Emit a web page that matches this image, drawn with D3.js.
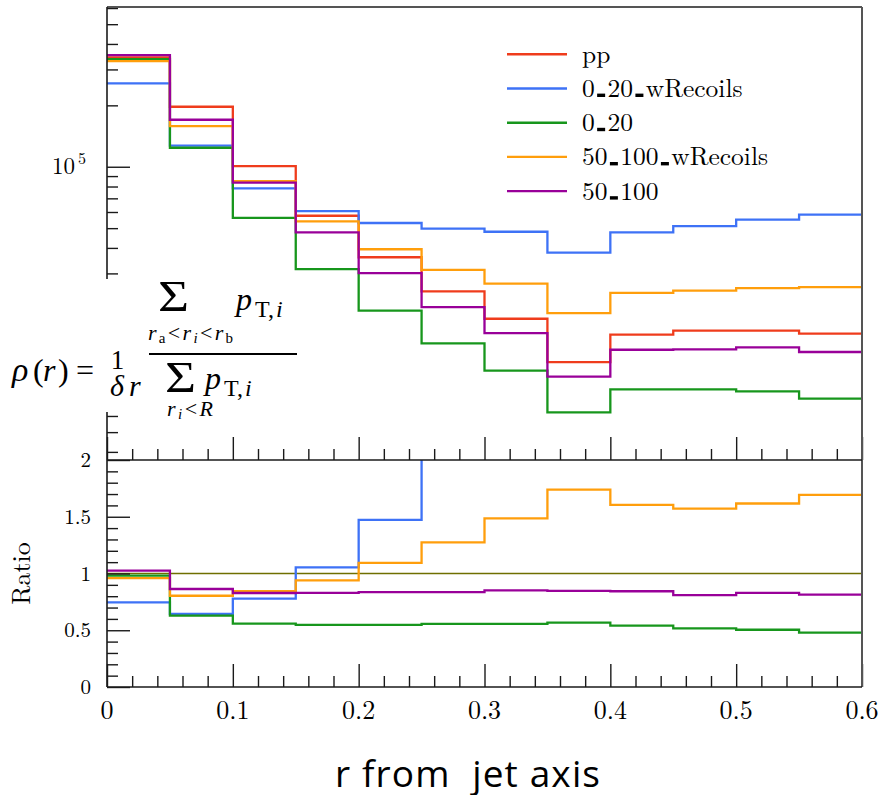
<!DOCTYPE html>
<html>
<head>
<meta charset="utf-8">
<script src="https://cdn.jsdelivr.net/npm/d3@7"></script>
<style>
  body { margin: 0; background: #fff; }
  svg { display: block; }
</style>
</head>
<body>
<svg id="chart" width="882" height="795"></svg>
<script>
// Jet shape rho(r): bin edges in r and per-bin values for each sample
const rEdges = [0, 0.05, 0.1, 0.15, 0.2, 0.25, 0.3, 0.35, 0.4, 0.45, 0.5, 0.55, 0.6];
const seriesNames = ["pp", "0_20_wRecoils", "0_20", "50_100_wRecoils", "50_100"];
const ppVals        = [343900, 196900, 100800, 57500, 36000, 24500, 17980, 11030, 15020, 15710, 15710, 15190];
const cent020Recoil = [256400, 126800, 78400, 60600, 53000, 49700, 48000, 37900, 47700, 51200, 55000, 58200];
const cent020       = [337300, 123900, 56200, 31500, 19700, 13620, 10000, 6250, 8110, 8110, 7925, 7290];
const cent50Recoil  = [329700, 158300, 85100, 54000, 39400, 31200, 26700, 19180, 24100, 24700, 25400, 25700];
const cent50        = [352800, 170000, 83500, 47700, 30100, 20500, 15300, 9350, 12670, 12730, 13020, 12350];
const xTickLabels = ["0", "0.1", "0.2", "0.3", "0.4", "0.5", "0.6"];
const xTickValues = [0, 0.1, 0.2, 0.3, 0.4, 0.5, 0.6];
const ratioTickValues = [0, 0.5, 1, 1.5, 2];
const ratioTickLabels = ["0", "0.5", "1", "1.5", "2"];

const seriesVals = [ppVals, cent020Recoil, cent020, cent50Recoil, cent50];
const seriesColors = ["#ef3c1c", "#3e72f6", "#17961c", "#ff9e0c", "#990099"];
const refColor = "#6f6f00";

const LM = '"Latin Modern Roman"';
const TIMES = '"Liberation Serif"';
const svg = d3.select("#chart");
const L = 107, R = 862, TOP = 7, MID = 460, BOT = 687;

const x = d3.scaleLinear().domain([0, 0.6]).range([L, R]);
const yMain = d3.scaleLog().domain([3650, 6.07e5]).range([MID, TOP]);
const yRatio = d3.scaleLinear().domain([0, 2]).range([BOT, MID]);

const defs = svg.append("defs");
defs.append("clipPath").attr("id", "clipMain")
  .append("rect").attr("x", L).attr("y", TOP).attr("width", R - L).attr("height", MID - TOP);
defs.append("clipPath").attr("id", "clipRatio")
  .append("rect").attr("x", L).attr("y", MID).attr("width", R - L).attr("height", BOT - MID);

const stepPts = vals => vals.map((v, i) => [rEdges[i], v]).concat([[rEdges[rEdges.length - 1], vals[vals.length - 1]]]);
const stepLine = ys => d3.line().x(d => x(d[0])).y(d => ys(d[1])).curve(d3.curveStepAfter);

// ---- upper panel: histograms ----
const gMain = svg.append("g").attr("clip-path", "url(#clipMain)");
seriesVals.forEach((vals, k) => {
  gMain.append("path")
    .attr("d", stepLine(yMain)(stepPts(vals)))
    .attr("fill", "none")
    .attr("stroke", seriesColors[k])
    .attr("stroke-width", 2.3);
});

// ---- lower panel: ratios to pp ----
const gRatio = svg.append("g").attr("clip-path", "url(#clipRatio)");
gRatio.append("path")
  .attr("d", stepLine(yRatio)(stepPts(ppVals.map((v, i) => v / ppVals[i]))))
  .attr("fill", "none").attr("stroke", refColor).attr("stroke-width", 1.6);
seriesVals.slice(1).forEach((vals, k) => {
  const ratio = vals.map((v, i) => v / ppVals[i]);
  gRatio.append("path")
    .attr("d", stepLine(yRatio)(stepPts(ratio)))
    .attr("fill", "none")
    .attr("stroke", seriesColors[k + 1])
    .attr("stroke-width", 2.3);
});

// ---- axes ----
const axCol = "#1a1a1a";
function styleAxis(g) {
  g.select(".domain").remove();
  g.selectAll(".tick line").attr("stroke", axCol).attr("stroke-width", 1.4);
  g.selectAll(".tick text").remove();
}
const xMinor = d3.range(0, 31).map(i => i * 0.02).filter((v, i) => i % 5 !== 0);

[MID, BOT].forEach(yy => {
  svg.append("g").attr("transform", `translate(0,${yy})`)
    .call(d3.axisTop(x).tickValues(xTickValues).tickSize(23).tickSizeOuter(0)).call(styleAxis);
  svg.append("g").attr("transform", `translate(0,${yy})`)
    .call(d3.axisTop(x).tickValues(xMinor).tickSize(11).tickSizeOuter(0)).call(styleAxis);
});

// log ticks on the upper panel
const logMajor = [1e4, 1e5];
const logMinor = [];
[1e3, 1e4, 1e5].forEach(dec => { for (let m = 2; m <= 9; m++) logMinor.push(m * dec); });
const logMinorIn = logMinor.filter(v => v >= 3650 && v <= 6.07e5);
svg.append("g").attr("transform", `translate(${L},0)`)
  .call(d3.axisRight(yMain).tickValues(logMajor).tickSize(23).tickSizeOuter(0)).call(styleAxis);
svg.append("g").attr("transform", `translate(${L},0)`)
  .call(d3.axisRight(yMain).tickValues(logMinorIn).tickSize(11).tickSizeOuter(0)).call(styleAxis);

// ratio ticks
const ratioMinor = d3.range(0, 21).map(i => i * 0.1).filter((v, i) => i % 5 !== 0);
svg.append("g").attr("transform", `translate(${L},0)`)
  .call(d3.axisRight(yRatio).tickValues(ratioTickValues).tickSize(23).tickSizeOuter(0)).call(styleAxis);
svg.append("g").attr("transform", `translate(${L},0)`)
  .call(d3.axisRight(yRatio).tickValues(ratioMinor).tickSize(11).tickSizeOuter(0)).call(styleAxis);

// frame
svg.append("line").attr("x1", L).attr("x2", R).attr("y1", TOP).attr("y2", TOP)
  .attr("stroke", "#555").attr("stroke-width", 2);
svg.append("line").attr("x1", R).attr("x2", R).attr("y1", TOP).attr("y2", BOT)
  .attr("stroke", "#555").attr("stroke-width", 2);
svg.append("line").attr("x1", L).attr("x2", L).attr("y1", TOP).attr("y2", BOT)
  .attr("stroke", axCol).attr("stroke-width", 1.6);
svg.append("line").attr("x1", L).attr("x2", R).attr("y1", MID).attr("y2", MID)
  .attr("stroke", axCol).attr("stroke-width", 1.6);
svg.append("line").attr("x1", L).attr("x2", R).attr("y1", BOT).attr("y2", BOT)
  .attr("stroke", axCol).attr("stroke-width", 1.6);

// tick labels
svg.append("g").selectAll("text").data(xTickValues).join("text")
  .attr("x", d => x(d)).attr("y", 718.5)
  .attr("text-anchor", "middle").attr("font-size", 26)
  .style("font-family", LM)
  .text((d, i) => xTickLabels[i]);
svg.append("g").selectAll("text").data(ratioTickValues).join("text")
  .attr("x", 91).attr("y", d => yRatio(d) + 7)
  .attr("text-anchor", "end").attr("font-size", 21)
  .style("font-family", LM)
  .text((d, i) => ratioTickLabels[i]);

const lab5 = svg.append("text").attr("x", 52).attr("y", yMain(1e5) + 7)
  .attr("font-size", 23).style("font-family", LM);
lab5.append("tspan").text("10");
lab5.append("tspan").attr("dx", 3).attr("dy", -10).attr("font-size", 16).text("5");

// axis titles
svg.append("text")
  .attr("transform", `translate(30,${yRatio(1)}) rotate(-90)`)
  .attr("text-anchor", "middle").attr("font-size", 26)
  .style("font-family", LM)
  .text("Ratio");
svg.append("text")
  .attr("x", 467.5).attr("y", 787)
  .attr("text-anchor", "middle")
  .attr("font-size", 37)
  .style("font-family", '"Open Sans"')
  .style("white-space", "pre")
  .attr("textLength", 265).attr("lengthAdjust", "spacing")
  .text("r from  jet axis");

// ---- legend ----
const leg = svg.append("g");
seriesNames.forEach((name, k) => {
  const yy = 54.3 + k * 34.2;
  leg.append("line").attr("x1", 507).attr("x2", 567).attr("y1", yy).attr("y2", yy)
    .attr("stroke", seriesColors[k]).attr("stroke-width", 2.4);
  const t = leg.append("text").attr("x", 582).attr("y", yy + 8.5)
    .attr("font-size", 25.5).style("font-family", LM);
  const parts = name.split("_");
  parts.forEach((p, j) => {
    t.append("tspan").text(p);
    if (j < parts.length - 1) {
      t.append("tspan").attr("font-size", 17).attr("fill-opacity", 0).text("_");
    }
  });
  // underscores drawn as short solid bars on the baseline
  const node = t.node();
  const txt = node.textContent;
  for (let c = 0; c < txt.length; c++) {
    if (txt[c] === "_") {
      const ext = node.getExtentOfChar(c);
      const w = Math.min(8, ext.width);
      leg.append("rect")
        .attr("x", ext.x + (ext.width - w) / 2).attr("y", yy + 8.5 - 3.4)
        .attr("width", w).attr("height", 3.4)
        .attr("fill", "#000");
    }
  }
});

// ---- definition of rho(r) ----
const fm = svg.append("g");
fm.append("rect").attr("x", 0).attr("y", 279).attr("width", 300).attr("height", 133).attr("fill", "#fff");
function ft(parent, xp, yp, size, str, opts = {}) {
  const t = parent.append("text").attr("x", xp).attr("y", yp).attr("font-size", size)
    .style("font-family", TIMES).text(str);
  if (opts.italic) t.attr("font-style", "italic");
  if (opts.anchor) t.attr("text-anchor", opts.anchor);
  if (opts.len) t.attr("textLength", opts.len).attr("lengthAdjust", opts.adjust || "spacingAndGlyphs");
  return t;
}
ft(fm, 12, 381, 34, "ρ", { italic: true });
ft(fm, 33, 381, 32, "(");
ft(fm, 43, 381, 32, "r", { italic: true });
ft(fm, 58, 381, 32, ")");
ft(fm, 76, 381, 32, "=");
ft(fm, 117.5, 369, 27, "1", { anchor: "middle" });
ft(fm, 110, 396, 30, "δ", { italic: true });
ft(fm, 129, 396, 30, "r", { italic: true });
fm.append("line").attr("x1", 149).attr("x2", 297).attr("y1", 354).attr("y2", 354)
  .attr("stroke", "#000").attr("stroke-width", 1.8);

// numerator
ft(fm, 158, 311, 44, "Σ", { len: 31 });
ft(fm, 236, 310, 32, "p", { italic: true });
ft(fm, 255, 317, 24, "T,");
ft(fm, 276, 317, 24, "i", { italic: true });
function sub(parent, xp, yp, len, pieces) {
  const t = parent.append("text").attr("x", xp).attr("y", yp).attr("font-size", 22)
    .style("font-family", TIMES).attr("textLength", len).attr("lengthAdjust", "spacing");
  pieces.forEach(([s, it, small], idx) => {
    const ts = t.append("tspan").text(s);
    if (it) ts.attr("font-style", "italic");
    if (small) ts.attr("font-size", 15).attr("dy", 3);
    else if (idx > 0 && pieces[idx - 1][2]) ts.attr("dy", -3);
  });
  return t;
}
sub(fm, 148, 340, 85, [["r", 1, 0], ["a", 0, 1], ["<", 0, 0], ["r", 1, 0], ["i", 1, 1], ["<", 0, 0], ["r", 1, 0], ["b", 0, 1]]);

// denominator
ft(fm, 165, 392, 44, "Σ", { len: 31 });
ft(fm, 205, 389, 32, "p", { italic: true });
ft(fm, 224, 396, 24, "T,");
ft(fm, 245, 396, 24, "i", { italic: true });
sub(fm, 167, 416, 46, [["r", 1, 0], ["i", 1, 1], ["<", 0, 0], ["R", 1, 0]]);
</script>
</body>
</html>
